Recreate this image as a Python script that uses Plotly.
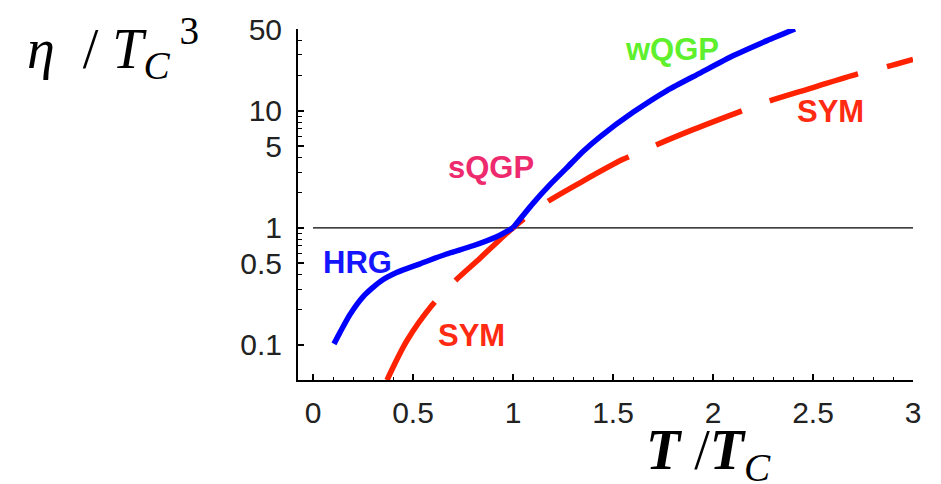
import math
import plotly.graph_objects as go

# Hadron resonance gas / QGP curve (eta / Tc^3 vs T / Tc)
qgp_t = [0.105, 0.135, 0.185, 0.252, 0.335, 0.418, 0.535, 0.668, 0.80, 0.918, 1.00,
         1.10, 1.185, 1.27, 1.35, 1.435, 1.60, 1.77, 1.935, 2.10, 2.27, 2.41]
qgp_eta = [0.102, 0.128, 0.182, 0.26, 0.347, 0.415, 0.493, 0.598, 0.703, 0.84, 1.00,
           1.62, 2.34, 3.27, 4.5, 6.0, 9.7, 14.9, 21.0, 29.5, 39.8, 50.0]

# Pure-glue (SYM) curve
sym_t = [0.37, 0.47, 0.595, 0.695, 0.835, 0.90, 1.00, 1.145, 1.35, 1.55,
         1.685, 1.90, 2.125, 2.26, 2.50, 2.72, 2.86, 3.00]
sym_eta = [0.050, 0.109, 0.218, 0.333, 0.55, 0.70, 1.00, 1.56, 2.51, 3.85,
           4.86, 6.9, 9.7, 11.8, 15.8, 20.6, 23.6, 27.5]

# reference level eta / Tc^3 = 1
ref_level = 1.0
ref_t = [0.0, 3.0]

x_ticks = [0, 0.5, 1, 1.5, 2, 2.5, 3]
x_tick_text = ["0", "0.5", "1", "1.5", "2", "2.5", "3"]
x_minor = [i / 10 for i in range(0, 31) if i % 5 != 0]
y_ticks = [0.1, 0.5, 1, 5, 10, 50]
y_tick_text = ["0.1", "0.5", "1", "5", "10", "50"]
y_minor = [0.2, 0.3, 0.4, 0.6, 0.7, 0.8, 0.9, 2, 3, 4, 6, 7, 8, 9, 20, 30, 40]

# curve labels: (text, t, eta, colour)
labels = [
    ("HRG", 0.22, 0.51, "#1414ff"),
    ("sQGP", 0.89, 3.25, "#ee2a6e"),
    ("wQGP", 1.795, 33.5, "#5ef02c"),
    ("SYM", 2.585, 9.9, "#ff2a12"),
    ("SYM", 0.79, 0.12, "#ff2a12"),
]

fig = go.Figure()
fig.add_trace(go.Scatter(
    x=ref_t, y=[ref_level] * len(ref_t), mode="lines",
    line=dict(color="black", width=1.4), hoverinfo="skip"))
fig.add_trace(go.Scatter(
    x=sym_t, y=sym_eta, mode="lines",
    line=dict(color="#ff2200", width=5.5, dash="92px,30px",
              shape="spline", smoothing=0.9)))

# the QGP curve has a corner at T = Tc: draw both branches separately
k = qgp_t.index(1.00)
for seg in (slice(0, k + 1), slice(k, None)):
    fig.add_trace(go.Scatter(
        x=qgp_t[seg], y=qgp_eta[seg], mode="lines",
        line=dict(color="#0000ff", width=5.5, shape="spline", smoothing=0.6)))

# annotation positions on a log axis are given in decades
for text, t, eta, col in labels:
    fig.add_annotation(x=t, y=math.log10(eta), yref="y", xref="x",
                       text=f"<b>{text}</b>", showarrow=False,
                       font=dict(family="Liberation Sans", size=31, color=col),
                       xanchor="center", yanchor="middle")

serif = "Liberation Serif"
fig.add_annotation(
    xref="paper", yref="paper", x=-0.444, y=0.945, xanchor="left", yanchor="middle",
    text="<i>η</i>&nbsp;&nbsp;/&nbsp;<i>T</i><sub><i>C</i>&nbsp;</sub><sup>3</sup>",
    showarrow=False, font=dict(family=serif, size=56, color="black"))
fig.add_annotation(
    xref="paper", yref="paper", x=0.675, y=-0.21, xanchor="center", yanchor="middle",
    text="<b><i>T</i></b>&nbsp;/<b><i>T</i></b><sub><i>C</i>&nbsp;</sub>", showarrow=False,
    font=dict(family=serif, size=56, color="black"))

tick_font = dict(family="Liberation Sans", size=30, color="#222222")
fig.update_xaxes(
    range=[-0.075, 3.0], showline=True, linecolor="black", linewidth=2,
    ticks="inside", ticklen=6, tickwidth=1.5, tickcolor="black",
    tickmode="array", tickvals=x_ticks, ticktext=x_tick_text,
    tickfont=tick_font, ticklabelstandoff=5,
    minor=dict(tickmode="array", tickvals=x_minor, ticks="inside", ticklen=3,
               tickwidth=1.2, tickcolor="black", showgrid=False),
    showgrid=False, zeroline=False)
fig.update_yaxes(
    type="log", range=[-1.30, 1.699], showline=True, linecolor="black", linewidth=2,
    ticks="inside", ticklen=6, tickwidth=1.5, tickcolor="black",
    tickmode="array", tickvals=y_ticks, ticktext=y_tick_text,
    tickfont=tick_font, ticklabelstandoff=8,
    minor=dict(tickmode="array", tickvals=y_minor, ticks="inside", ticklen=4,
               tickwidth=1.2, tickcolor="black", showgrid=False),
    showgrid=False, zeroline=False)

fig.update_layout(
    width=941, height=484, showlegend=False,
    margin=dict(l=298, r=28, t=22, b=104),
    plot_bgcolor="white", paper_bgcolor="white")

fig.write_html("out.html")
